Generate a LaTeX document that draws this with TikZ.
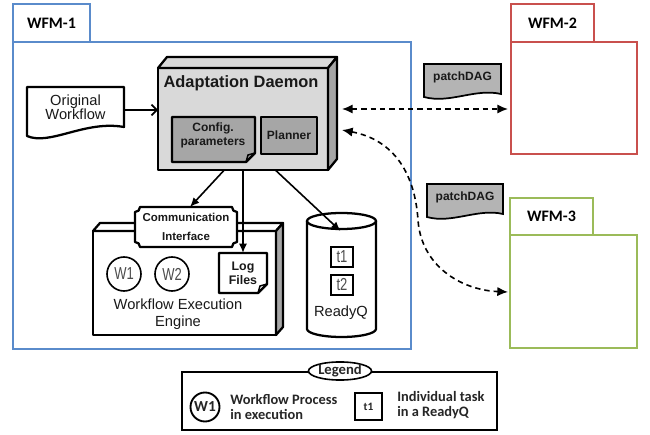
\documentclass[tikz,border=0pt]{standalone}
\usepackage{fontspec}
\usepackage{graphicx}
\setmainfont{Liberation Sans}
\newfontfamily\calfont{Carlito}
\usetikzlibrary{arrows.meta,shapes.geometric,calc,shadows}
\definecolor{wfmblue}{HTML}{5A8BCB}
\definecolor{wfmred}{HTML}{C9504D}
\definecolor{wfmgreen}{HTML}{9BBB59}
\definecolor{lgray}{HTML}{D9D9D9}
\definecolor{mgray}{HTML}{A6A6A6}
\definecolor{pgray}{HTML}{B4B4B4}
\begin{document}
\begin{tikzpicture}[x=0.75pt,y=-0.75pt,
  wfm/.style={draw=#1, line width=1.5pt, inner sep=0pt, outer sep=0pt},
  tabtxt/.style={font=\calfont\bfseries\fontsize{12}{14}\selectfont},
  heavy/.style={line width=1.7pt, line join=round},
  blbl/.style={font=\bfseries\fontsize{9}{10.5}\selectfont, align=center, text=black!90},
  rlbl/.style={font=\fontsize{11}{12.5}\selectfont, align=center, text=black!90},
  shade/.style={drop shadow={shadow xshift=0.9pt, shadow yshift=-0.9pt, opacity=0.4}},
  conn/.style={line width=1.2pt, -{Latex[length=7pt,width=6pt]}},
  dconn/.style={line width=1.2pt, dash pattern=on 4pt off 3pt,
     {Latex[length=8pt,width=7pt]}-{Latex[length=8pt,width=7pt]}},
  lgdtxt/.style={font=\calfont\bfseries\fontsize{10.8}{11}\selectfont, align=left, inner sep=0pt, anchor=west, text=black!85},
  ghost/.style={draw=none, inner sep=0pt, outer sep=0pt}
]
\useasboundingbox[fill=white] (0,0) rectangle (650,435);

% ---------- WFM frames ----------
\node[wfm=wfmblue, minimum width=398*0.75pt, minimum height=307*0.75pt] (wfm1) at (212,195.5) {};
\node[wfm=wfmblue, minimum width=77*0.75pt, minimum height=38*0.75pt, tabtxt] (wfm1tab) at (51.5,23) {WFM-1};
\node[wfm=wfmred, minimum width=126*0.75pt, minimum height=112*0.75pt] (wfm2) at (574,98) {};
\node[wfm=wfmred, minimum width=83*0.75pt, minimum height=38*0.75pt, tabtxt] (wfm2tab) at (552.5,23) {WFM-2};
\node[wfm=wfmgreen, minimum width=127*0.75pt, minimum height=113*0.75pt] (wfm3) at (573.5,291.5) {};
\node[wfm=wfmgreen, minimum width=83*0.75pt, minimum height=37*0.75pt, tabtxt] (wfm3tab) at (551.5,216.5) {WFM-3};

% ---------- Adaptation Daemon ----------
\node[draw, heavy, fill=lgray, outer sep=0pt, minimum width=170*0.75pt, minimum height=102*0.75pt] (daemon) at (243,119) {};
\draw[heavy, fill=lgray] (daemon.north west) -- ++(9,-11) -- ($(daemon.north east)+(9,-11)$) -- (daemon.north east) -- cycle;
\draw[heavy, fill=mgray] (daemon.north east) -- ++(9,-11) -- ($(daemon.south east)+(9,-11)$) -- (daemon.south east) -- cycle;
\node[font=\bfseries\fontsize{12.3}{14}\selectfont, text=black!90] (adtitle) at (241,83) {Adaptation Daemon};

\draw[heavy, fill=mgray, shade] (172,117) -- (255,117) -- (255,153) -- (246,162) -- (172,162) -- cycle;
\draw[line width=1.1pt] (246,162) -- (248,155) -- (255,153);
\node[ghost, blbl, minimum width=83*0.75pt, minimum height=45*0.75pt, font=\bfseries\fontsize{9}{10.5}\selectfont] (config) at (213,135) {Config.\\parameters};
\node[draw, heavy, fill=mgray, shade, minimum width=56*0.75pt, minimum height=37*0.75pt, inner sep=0pt, blbl] (planner) at (289,135.5) {Planner};

% ---------- Original Workflow ----------
\draw[heavy, fill=white] (27,87) -- (124,87) -- (124,127) .. controls (85,120) and (50,146) .. (27,136) -- cycle;
\node[ghost, minimum width=97*0.75pt, minimum height=46*0.75pt] (orig) at (75.5,110) {};
\node[rlbl, font=\fontsize{11}{10.5}\selectfont] (origtxt) at (75.5,107) {Original\\Workflow};
\draw[line width=1.2pt, -{Straight Barb[length=4pt,width=8pt]}] (orig.east) -- (orig.east -| daemon.west);

% ---------- Workflow Execution Engine ----------
\node[draw, heavy, fill=white, outer sep=0pt, minimum width=183*0.75pt, minimum height=104*0.75pt] (engine) at (184.5,283) {};
\draw[heavy, fill=white] (engine.north west) -- ++(7,-8) -- ($(engine.north east)+(7,-8)$) -- (engine.north east) -- cycle;
\draw[heavy, fill=mgray] (engine.north east) -- ++(7,-8) -- ($(engine.south east)+(7,-8)$) -- (engine.south east) -- cycle;
\node[rlbl, font=\fontsize{11}{12.75}\selectfont] (enginetxt) at (178,314.5) {Workflow Execution\\Engine};

% Communication Interface
\draw[heavy, fill=white] (140,207) -- (232,207) .. controls (232,210) and (234,212) .. (237,212) -- (237,242) .. controls (234,242) and (232,244) .. (232,247) -- (140,247) .. controls (140,244) and (138,242) .. (135,242) -- (135,212) .. controls (138,212) and (140,210) .. (140,207) -- cycle;
\node[ghost, blbl, font=\bfseries\fontsize{8.6}{14}\selectfont, minimum width=102*0.75pt, minimum height=40*0.75pt] (comm) at (186,227) {Communication\\Interface};

% Workflow processes
\node[circle, draw, line width=1.2pt, minimum size=34*0.75pt, inner sep=0pt, font=\fontsize{13}{13}\selectfont, text=black!70] (w1) at (124,274) {\scalebox{0.75}[1]{W1}};
\node[circle, draw, line width=1.2pt, minimum size=34*0.75pt, inner sep=0pt, font=\fontsize{13}{13}\selectfont, text=black!70] (w2) at (172,274) {\scalebox{0.75}[1]{W2}};

% Log files
\draw[heavy, fill=white, shade] (219,253) -- (267,253) -- (267,284) -- (258,293) -- (219,293) -- cycle;
\draw[line width=1.1pt] (258,293) -- (260,286) -- (267,284);
\node[ghost, blbl, font=\bfseries\fontsize{9.3}{10.5}\selectfont, minimum width=48*0.75pt, minimum height=40*0.75pt] (logs) at (243,273) {Log\\Files};

% ---------- ReadyQ ----------
\draw[heavy, fill=white] (307,221) -- (307,329) .. controls (307,333.4) and (322.45,337) .. (341.5,337) .. controls (360.55,337) and (376,333.4) .. (376,329) -- (376,221);
\draw[heavy, fill=white] (341.5,221) ellipse [x radius=34.5, y radius=8];
\node[ghost, minimum width=69*0.75pt, minimum height=116*0.75pt] (readyq) at (341.5,279) {};
\node[rlbl] (readyqtxt) at (341,313) {ReadyQ};
\node[draw, line width=1.5pt, minimum width=22*0.75pt, minimum height=20*0.75pt, inner sep=0pt, font=\fontsize{13}{13}\selectfont, text=black!70] (t1) at (342,257) {\scalebox{0.75}[1]{t1}};
\node[draw, line width=1.5pt, minimum width=22*0.75pt, minimum height=20*0.75pt, inner sep=0pt, font=\fontsize{13}{13}\selectfont, text=black!70] (t2) at (342,285) {\scalebox{0.75}[1]{t2}};

% ---------- Connectors from daemon ----------
\coordinate (rqin) at ($(readyq.north)+(-1,10)$);
\draw[conn] ($(daemon.south west)!0.39!(daemon.south east)$) -- ($(comm.north)+(4,0)$);
\draw[conn] (daemon.south) -- (logs.north);
\draw[conn] ($(daemon.south west)!0.69!(daemon.south east)$) -- (rqin);

% ---------- patchDAG ----------
\draw[line width=1.3pt, fill=pgray] (424,64) -- (501,64) -- (501,94) .. controls (475,88) and (450,104) .. (424,97) -- cycle;
\node[blbl] (patch1) at (462.5,77) {patchDAG};
\draw[line width=1.3pt, fill=pgray] (427,184) -- (503,184) -- (503,214) .. controls (478,208) and (452,224) .. (427,217) -- cycle;
\node[blbl] (patch2) at (465,197) {patchDAG};

% ---------- dashed exchanges ----------
\coordinate (d1a) at (342,109);
\coordinate (d1b) at (508,109);
\coordinate (d2a) at (342,130);
\coordinate (d2b) at (508,292);
\draw[dconn] (d1a) -- (d1b);
\draw[dconn] (d2a) .. controls (395,140) and (415,175) .. (418,220) .. controls (421,265) and (460,290) .. (d2b);

% ---------- Legend ----------
\node[draw, line width=1.2pt, minimum width=315*0.75pt, minimum height=58*0.75pt] (legend) at (339.5,401) {};
\node[ellipse, draw, fill=white, line width=1.2pt, minimum width=63*0.75pt, minimum height=18*0.75pt, inner sep=0pt, font=\calfont\bfseries\fontsize{11}{12}\selectfont, text=black!85] (legendtitle) at (340,371) {Legend};
\node[circle, draw, line width=1.4pt, minimum size=29*0.75pt, inner sep=0pt, font=\calfont\bfseries\fontsize{11.5}{12}\selectfont, text=black!85] (lw1) at (205,407) {W1};
\node[lgdtxt] (lw1txt) at (230,407) {Workflow Process\\in execution};
\node[draw, line width=1.4pt, minimum width=27*0.75pt, minimum height=27*0.75pt, inner sep=0pt, font=\calfont\bfseries\fontsize{8.5}{9}\selectfont, text=black!85] (lt1) at (368.5,406.5) {t1};
\node[lgdtxt] (lt1txt) at (397,405) {Individual task\\in a ReadyQ};
\end{tikzpicture}
\end{document}
